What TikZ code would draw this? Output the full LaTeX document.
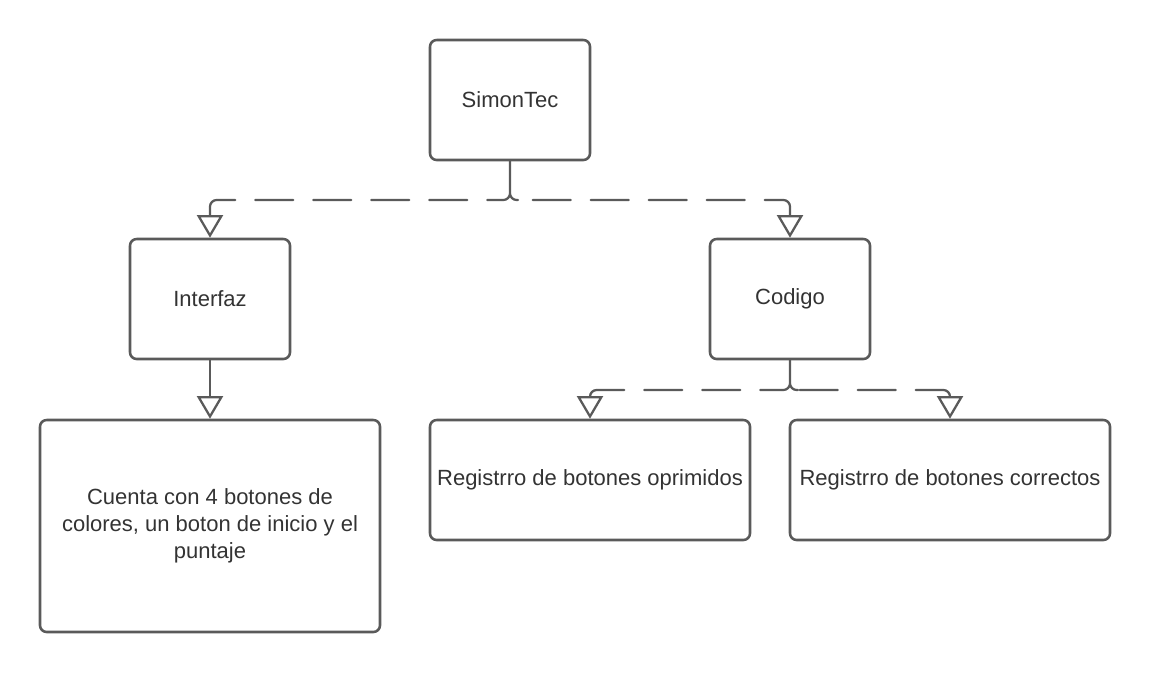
\documentclass[tikz,border=0pt]{standalone}
\usepackage{fontspec}
\setmainfont{Liberation Sans}
\usetikzlibrary{arrows.meta}
\definecolor{linegray}{HTML}{5A5A5A}
\definecolor{textgray}{HTML}{333333}
\begin{document}
\begin{tikzpicture}[x=0.75pt,y=-0.75pt,line join=round,line cap=round,font=\fontsize{16.5}{20.25}\selectfont,
	box/.style={draw=linegray,line width=1.9pt,rounded corners=5pt,text=textgray,align=center,inner sep=0pt,minimum width=120pt,minimum height=90pt},
	conn/.style={draw=linegray,line width=1.7pt,rounded corners=5pt},
	dashline/.style={conn,dash pattern=on 28.5pt off 15pt},
	tip/.style={{Triangle[open,length=17pt,width=19.5pt]}-}]
	\useasboundingbox (0,0) rectangle (1150,672);
	\path
	(510,100) node[box] (simon) {SimonTec}
	(210,299) node[box] (interfaz) {Interfaz}
	(790,299) node[box] (codigo) {Codigo}
	(210,526) node[box,minimum width=255pt,minimum height=159pt] (cuenta) {Cuenta con 4 botones de\\colores, un boton de inicio y el\\puntaje}
	(590,480) node[box,minimum width=240pt] (oprim) {Registrro de botones oprimidos}
	(950,480) node[box,minimum width=240pt] (correc) {Registrro de botones correctos}
	(502,200) coordinate (J1L)
	(518,200) coordinate (J1R)
	(782,390) coordinate (J2L)
	(798,390) coordinate (J2R)
	;
	% SimonTec
	\draw[conn] (simon.south) |- (J1L) (simon.south) |- (J1R);
	\draw[dashline,tip] (interfaz.north) |- (J1L);
	\draw[dashline,tip] (codigo.north) |- (J1R);
	% Interfaz
	\draw[conn,tip] (cuenta.north) -- (interfaz.south);
	% Codigo
	\draw[conn] (codigo.south) |- (J2L) (codigo.south) |- (J2R);
	\draw[dashline,tip] (oprim.north) |- (J2L);
	\draw[dashline,tip] (correc.north) |- (J2R);
\end{tikzpicture}
\end{document}
